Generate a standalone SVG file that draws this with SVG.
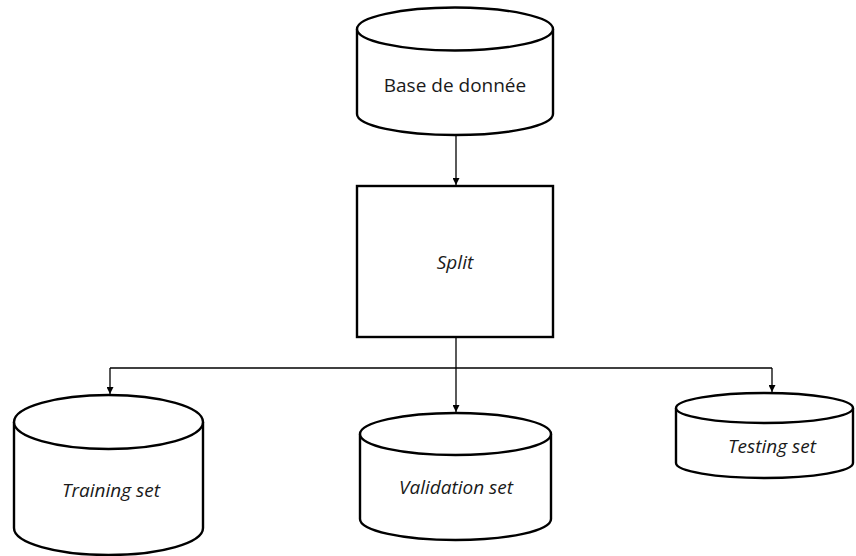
<svg xmlns="http://www.w3.org/2000/svg" width="856" height="556" viewBox="0 0 856 556">
  <style>
    .shape { fill: #ffffff; stroke: #000000; stroke-width: 2.4; }
    .link { fill: none; stroke: #000000; stroke-width: 1.3; }
    .label { font-family: "Open Sans", "Noto Sans", "Liberation Sans", sans-serif; font-size: 19px; fill: #1a1a1a; text-anchor: middle; }
    .it { font-style: italic; }
  </style>
  <defs>
    <marker id="arrow" viewBox="0 0 10 10" refX="10" refY="5" markerWidth="7" markerHeight="7" markerUnits="userSpaceOnUse" orient="auto">
      <path d="M0,0 L10,5 L0,10 Z" fill="#000000"/>
    </marker>
  </defs>
  <rect width="856" height="556" fill="#ffffff"/>

  <!-- connectors -->
  <g id="connectors">
    <line class="link" x1="456" y1="136" x2="456" y2="185" marker-end="url(#arrow)"/>
    <line class="link" x1="456" y1="338" x2="456" y2="412" marker-end="url(#arrow)"/>
    <polyline class="link" points="110,368 772,368"/>
    <line class="link" x1="110" y1="368" x2="110" y2="394" marker-end="url(#arrow)"/>
    <line class="link" x1="772" y1="368" x2="772" y2="392" marker-end="url(#arrow)"/>
  </g>

  <!-- database -->
  <g id="base">
    <path class="shape" d="M357,29 L357,114 A98,21 0 0 0 553,114 L553,29"/>
    <ellipse class="shape" cx="455" cy="29" rx="98" ry="21.5"/>
    <text class="label" x="455" y="92">Base de donnée</text>
  </g>

  <!-- split step -->
  <g id="split">
    <rect class="shape" x="357" y="186" width="196" height="151"/>
    <text class="label it" x="455" y="269">Split</text>
  </g>

  <!-- training set -->
  <g id="training">
    <path class="shape" d="M14,422 L14,528 A94.5,27 0 0 0 203,528 L203,422"/>
    <ellipse class="shape" cx="108.5" cy="422" rx="94.5" ry="27"/>
    <text class="label it" x="111" y="497">Training set</text>
  </g>

  <!-- validation set -->
  <g id="validation">
    <path class="shape" d="M360,434 L360,519 A95.5,21 0 0 0 551,519 L551,434"/>
    <ellipse class="shape" cx="455.5" cy="434" rx="95.5" ry="21"/>
    <text class="label it" x="456" y="494">Validation set</text>
  </g>

  <!-- testing set -->
  <g id="testing">
    <path class="shape" d="M676,408 L676,463 A88.5,15 0 0 0 853,463 L853,408"/>
    <ellipse class="shape" cx="764.5" cy="408" rx="88.5" ry="15"/>
    <text class="label it" x="772" y="453">Testing set</text>
  </g>
</svg>
